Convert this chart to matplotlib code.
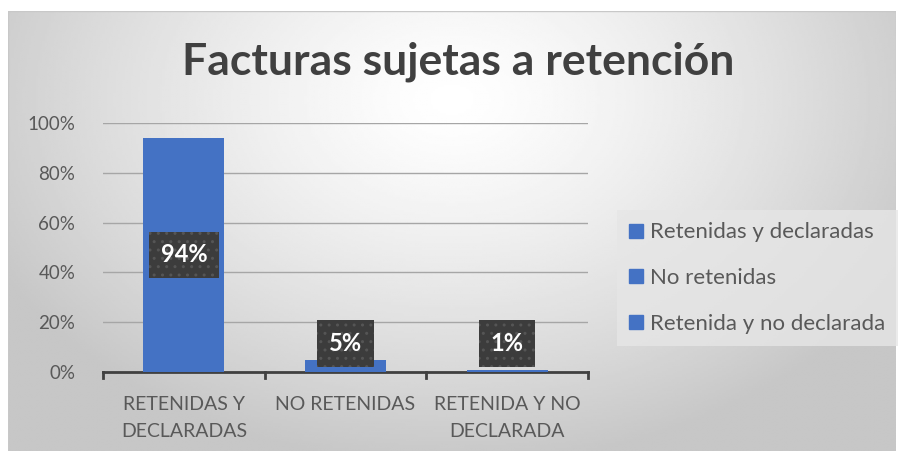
import matplotlib.pyplot as plt
import numpy as np
from matplotlib.patches import Patch, Rectangle

categorias = ["RETENIDAS Y\nDECLARADAS", "NO RETENIDAS", "RETENIDA Y NO\nDECLARADA"]
leyenda = ["Retenidas y declaradas", "No retenidas", "Retenida y no declarada"]
valores = [0.94, 0.05, 0.01]
etiquetas = ["94%", "5%", "1%"]
yticks = [0, 0.2, 0.4, 0.6, 0.8, 1.0]

azul = '#4472C4'
gris_txt = '#595959'
plt.rcParams['font.family'] = ['Lato', 'DejaVu Sans']

W, H = 899, 453
fig = plt.figure(figsize=(W / 100, H / 100), dpi=100)
fig.patch.set_facecolor('white')

# fondo con degradado radial
bg = fig.add_axes([8 / W, 2 / H, (896 - 8) / W, (442 - 2) / H])
bg.set_axis_off()
yy, xx = np.mgrid[0:1:200j, 0:1:400j]
d = np.sqrt(((xx - 0.5) * 1.3) ** 2 + ((yy - 0.2) * 0.9) ** 2)
g = 1.0 - 0.22 * np.clip(d / 0.75, 0, 1) ** 1.3
bg.imshow(g, cmap='gray', vmin=0, vmax=1, aspect='auto', extent=[0, 1, 1, 0])
bg.add_patch(Rectangle((0, 0), 1, 1, transform=bg.transAxes, fill=False,
                       ec='#c8c8c8', lw=1))

ax = fig.add_axes([103 / W, 1 - 372 / H, (588 - 103) / W, (372 - 123) / H])
ax.patch.set_alpha(0)
x = np.arange(len(categorias))
ax.bar(x, valores, width=0.5, color=azul, zorder=3)
ax.set_xlim(-0.5, 2.5)
ax.set_ylim(0, 1)
ax.set_yticks(yticks)
ax.set_yticklabels([f"{int(v * 100)}%" for v in yticks], fontsize=13.5, color=gris_txt)
ax.set_xticks(x)
ax.set_xticklabels(categorias, fontsize=14, color=gris_txt, linespacing=1.75)
ax.tick_params(axis='y', length=0, pad=20)
ax.tick_params(axis='x', length=0, pad=17)
ax.grid(axis='y', color='#a6a6a6', lw=1, zorder=0)
for s in ['top', 'right', 'left']:
    ax.spines[s].set_visible(False)
ax.spines['bottom'].set_color('#404040')
ax.spines['bottom'].set_linewidth(2)
for b in [-0.5, 0.5, 1.5, 2.5]:
    ax.plot([b, b], [0, -0.025], color='#404040', lw=2, clip_on=False, zorder=4)

for i, (v, t) in enumerate(zip(valores, etiquetas)):
    ypos = max(v / 2, 0.115)
    ax.text(i, ypos, t, ha='center', va='center', fontsize=17, fontweight='bold',
            color='white', zorder=6,
            bbox=dict(boxstyle='square,pad=0.5', fc='#3c3c3c', ec='#555555',
                      lw=0, hatch='..'))

fig.text(458 / W, 1 - 62 / H, "Facturas sujetas a retención", ha='center', va='center',
         fontsize=32, fontweight='bold', color='#404040')

handles = [Patch(color=azul) for _ in leyenda]
leg = fig.legend(handles, leyenda, loc='center left', bbox_to_anchor=(617 / W, 1 - 278 / H),
                 frameon=True, fontsize=16, labelspacing=1.15, handlelength=0.6,
                 handleheight=0.6, handletextpad=0.35, borderpad=0.55, borderaxespad=0,
                 fancybox=False)
leg.get_frame().set_facecolor('#e6e6e6')
leg.get_frame().set_edgecolor('none')
for t in leg.get_texts():
    t.set_color(gris_txt)

fig.savefig('out.png', dpi=100)
